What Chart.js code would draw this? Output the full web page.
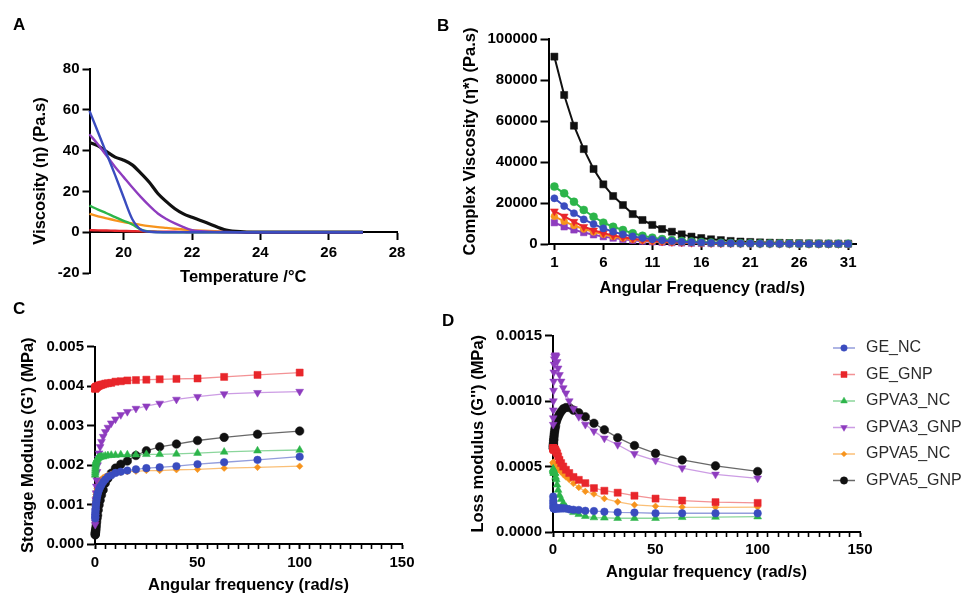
<!DOCTYPE html>
<html>
<head>
<meta charset="utf-8">
<script src="https://cdn.jsdelivr.net/npm/chart.js@4.4.1/dist/chart.umd.min.js"></script>
<style>
  html, body { margin: 0; padding: 0; background: #fff; width: 964px; height: 594px; overflow: hidden; }
  canvas { position: absolute; left: 0; top: 0; }
  .tag { position: absolute; font: bold 17px "Liberation Sans", Arial, sans-serif; line-height: 1; color: #000; }
</style>
</head>
<body>
<canvas id="chartA" width="964" height="610"></canvas>
<canvas id="chartB" width="964" height="610"></canvas>
<canvas id="chartC" width="964" height="610"></canvas>
<canvas id="chartD" width="964" height="610"></canvas>
<div class="tag" style="left:13px;top:16px">A</div>
<div class="tag" style="left:437px;top:17px">B</div>
<div class="tag" style="left:13px;top:300px">C</div>
<div class="tag" style="left:442px;top:312px">D</div>
<script>
// ---- data ----
var seriesNames = ['GE_NC', 'GE_GNP', 'GPVA3_NC', 'GPVA3_GNP', 'GPVA5_NC', 'GPVA5_GNP'];

// A: viscosity vs temperature
var tempA = [19, 19.25, 19.5, 19.75, 20, 20.25, 20.5, 20.75, 21, 21.25, 21.5, 21.75, 22, 22.5, 23, 23.5, 24, 25, 26, 27];
var aGE_NC     = [59.5, 49, 38.5, 28, 17, 6.5, 1.3, 0.2, 0, 0, 0, 0, 0, 0, 0, 0, 0, 0, 0, 0];
var aGE_GNP    = [1, 0.9, 0.8, 0.7, 0.6, 0.5, 0.4, 0.35, 0.3, 0.25, 0.2, 0.15, 0.1, 0.05, 0, 0, 0, 0, 0, 0];
var aGPVA3_NC  = [13, 11.1, 9.3, 7.4, 5.6, 3.8, 1.3, 0.3, 0.1, 0, 0, 0, 0, 0, 0, 0, 0, 0, 0, 0];
var aGPVA3_GNP = [48, 43, 37.5, 32, 27, 22, 17.3, 13, 9.2, 6.5, 4.3, 2.5, 1, 0.3, 0.1, 0, 0, 0, 0, 0];
var aGPVA5_NC  = [9, 7.8, 6.8, 5.8, 5, 4.3, 3.6, 3, 2.5, 2.1, 1.7, 1.3, 1, 0.6, 0.3, 0.1, 0, 0, 0, 0];
var aGPVA5_GNP = [44, 42.3, 39.5, 36.8, 35.3, 33, 29, 24.5, 19, 15, 11.5, 9, 7.3, 4.2, 1.1, 0.2, 0, 0, 0, 0];
var aXTicks = [20, 22, 24, 26, 28];
var aYTicks = [-20, 0, 20, 40, 60, 80];

// B: complex viscosity vs angular frequency
var freqB = [1, 2, 3, 4, 5, 6, 7, 8, 9, 10, 11, 12, 13, 14, 15, 16, 17, 18, 19, 20, 21, 22, 23, 24, 25, 26, 27, 28, 29, 30, 31];
var bGE_NC     = [22300, 18500, 15000, 12000, 9700, 7600, 6000, 4700, 3700, 2900, 2300, 1800, 1400, 1100, 900, 720, 580, 470, 390, 320, 270, 230, 200, 170, 150, 130, 115, 100, 90, 80, 75];
var bGE_GNP    = [16000, 13500, 10900, 8400, 6700, 5300, 4200, 3300, 2600, 2000, 1600, 1250, 1000, 800, 650, 520, 420, 350, 290, 240, 200, 170, 150, 130, 110, 100, 90, 80, 70, 65, 60];
var bGPVA3_NC  = [28000, 24700, 20600, 16600, 13300, 10400, 8400, 6800, 5200, 4000, 3100, 2400, 1900, 1500, 1200, 950, 760, 620, 500, 420, 350, 300, 260, 220, 190, 170, 150, 130, 120, 110, 100];
var bGPVA3_GNP = [10400, 8400, 6900, 5600, 4500, 3600, 2900, 2300, 1800, 1400, 1100, 870, 690, 550, 440, 360, 290, 240, 200, 170, 140, 120, 100, 90, 80, 70, 60, 55, 50, 45, 40];
var bGPVA5_NC  = [13500, 11000, 9000, 7300, 5900, 4700, 3700, 2900, 2300, 1800, 1400, 1100, 870, 700, 560, 450, 370, 300, 250, 210, 180, 150, 130, 110, 100, 90, 80, 70, 65, 60, 55];
var bGPVA5_GNP = [91400, 72700, 57700, 46300, 36600, 29100, 23400, 19000, 14600, 11700, 9300, 7300, 6000, 4700, 3600, 2900, 2300, 1900, 1500, 1200, 1000, 800, 650, 550, 450, 380, 320, 280, 240, 200, 180];
var bXTicks = [1, 6, 11, 16, 21, 26, 31];
var bYTicks = [0, 20000, 40000, 60000, 80000, 100000];

// C and D: moduli vs angular frequency
var freqCD = [0.1, 0.126, 0.158, 0.2, 0.251, 0.316, 0.398, 0.501, 0.631, 0.794, 1, 1.26, 1.58, 2, 2.51, 3.16, 3.98, 5.01, 6.31, 7.94, 10, 12.6, 15.8, 20, 25.1, 31.6, 39.8, 50.1, 63.1, 79.4, 100];
var cGE_NC     = [0.00065, 0.0007, 0.00075, 0.0008, 0.00085, 0.0009, 0.00096, 0.00102, 0.00108, 0.00114, 0.0012, 0.00126, 0.00132, 0.00138, 0.00144, 0.0015, 0.00157, 0.00163, 0.0017, 0.00174, 0.0018, 0.00183, 0.00186, 0.00189, 0.00192, 0.00194, 0.00197, 0.00202, 0.00207, 0.00213, 0.00221];
var cGE_GNP    = [0.00393, 0.00394, 0.00394, 0.00395, 0.00395, 0.00396, 0.00396, 0.00397, 0.00397, 0.00398, 0.00398, 0.00399, 0.004, 0.00401, 0.00402, 0.00403, 0.00404, 0.00406, 0.00407, 0.00408, 0.00411, 0.00412, 0.00414, 0.00415, 0.00416, 0.00417, 0.00418, 0.00419, 0.00423, 0.00428, 0.00434];
var cGPVA3_NC  = [0.00175, 0.0018, 0.00185, 0.0019, 0.00195, 0.002, 0.00204, 0.00207, 0.0021, 0.00212, 0.00214, 0.00216, 0.00218, 0.00219, 0.0022, 0.00221, 0.00221, 0.00223, 0.00224, 0.00225, 0.00225, 0.00226, 0.00226, 0.00226, 0.00227, 0.00227, 0.00228, 0.0023, 0.00233, 0.00236, 0.00238];
var cGPVA3_GNP = [0.00049, 0.00055, 0.00062, 0.0007, 0.00083, 0.00096, 0.00112, 0.00129, 0.00146, 0.00162, 0.00183, 0.002, 0.00217, 0.0023, 0.00246, 0.00259, 0.00272, 0.00284, 0.00295, 0.00306, 0.00316, 0.00327, 0.00335, 0.00343, 0.00349, 0.00356, 0.00366, 0.00373, 0.0038, 0.00383, 0.00386];
var cGPVA5_NC  = [0.0009, 0.00095, 0.001, 0.00105, 0.0011, 0.00115, 0.0012, 0.00125, 0.0013, 0.00135, 0.0014, 0.00145, 0.0015, 0.00155, 0.0016, 0.00164, 0.00168, 0.00171, 0.00174, 0.00177, 0.0018, 0.00181, 0.00183, 0.00184, 0.00186, 0.00186, 0.00188, 0.00189, 0.00192, 0.00194, 0.00197];
var cGPVA5_GNP = [0.00023, 0.00025, 0.00027, 0.00029, 0.00031, 0.00034, 0.00037, 0.00042, 0.00048, 0.00056, 0.00065, 0.00073, 0.00086, 0.00099, 0.00111, 0.00124, 0.00137, 0.00154, 0.00166, 0.00179, 0.00192, 0.00202, 0.0021, 0.00224, 0.00236, 0.00246, 0.00253, 0.00262, 0.0027, 0.00278, 0.00286];

var dGE_NC     = [0.00027, 0.00024, 0.00022, 0.0002, 0.00019, 0.00018, 0.00018, 0.00018, 0.00018, 0.00018, 0.00018, 0.00018, 0.00018, 0.00018, 0.00018, 0.00018, 0.00018, 0.00018, 0.000179, 0.000173, 0.00017, 0.000168, 0.000162, 0.00016, 0.000155, 0.00015, 0.000148, 0.000143, 0.000143, 0.000143, 0.000143];
var dGE_GNP    = [0.00064, 0.00064, 0.00064, 0.00064, 0.00063, 0.00063, 0.00063, 0.00063, 0.00063, 0.00063, 0.00063, 0.00062, 0.00061, 0.0006, 0.000577, 0.00055, 0.000526, 0.0005, 0.000475, 0.00045, 0.00042, 0.000398, 0.000373, 0.000335, 0.000315, 0.0003, 0.000277, 0.000255, 0.00024, 0.000228, 0.000222];
var dGPVA3_NC  = [0.00048, 0.00048, 0.00047, 0.00047, 0.00046, 0.00046, 0.00045, 0.00045, 0.00045, 0.00045, 0.00045, 0.00042, 0.0004, 0.00036, 0.00032, 0.00028, 0.00025, 0.00022, 0.00019, 0.00017, 0.00015, 0.000135, 0.00012, 0.00011, 0.000108, 0.000105, 0.000105, 0.000105, 0.000112, 0.000114, 0.000117];
var dGPVA3_GNP = [0.00082, 0.00087, 0.00093, 0.001, 0.00108, 0.00115, 0.00122, 0.00128, 0.00132, 0.00134, 0.00135, 0.00135, 0.00134, 0.0013, 0.00125, 0.0012, 0.00115, 0.0011, 0.00106, 0.001, 0.00094, 0.00088, 0.00082, 0.00077, 0.000715, 0.000666, 0.000597, 0.000545, 0.000488, 0.00044, 0.00041];
var dGPVA5_NC  = [0.00053, 0.00053, 0.00053, 0.00053, 0.00053, 0.00052, 0.00052, 0.00052, 0.00052, 0.00051, 0.00051, 0.0005, 0.0005, 0.00049, 0.00048, 0.00047, 0.00046, 0.00044, 0.00042, 0.0004, 0.00037, 0.00034, 0.00031, 0.00029, 0.000255, 0.00023, 0.000207, 0.000197, 0.00019, 0.000188, 0.00019];
var dGPVA5_GNP = [0.00064, 0.00065, 0.00066, 0.00067, 0.00068, 0.0007, 0.00071, 0.00073, 0.00075, 0.00077, 0.00079, 0.00081, 0.00084, 0.00086, 0.00088, 0.0009, 0.00092, 0.00094, 0.00095, 0.00095, 0.00093, 0.00091, 0.00088, 0.00083, 0.00078, 0.00072, 0.00066, 0.0006, 0.00055, 0.000505, 0.000462];

var cdXMajor = [0, 50, 100, 150];
var cYTicks = [0, 0.001, 0.002, 0.003, 0.004, 0.005];
var dYTicks = [0, 0.0005, 0.001, 0.0015];

// ---- look ----
var colors = {
  GE_NC: '#3a4cbf', GE_GNP: '#e8262b', GPVA3_NC: '#2cb54a',
  GPVA3_GNP: '#8e3cbf', GPVA5_NC: '#f7941d', GPVA5_GNP: '#111111'
};
var lightLines = {
  GE_NC: 'rgba(58,76,191,0.55)', GE_GNP: 'rgba(232,38,43,0.5)', GPVA3_NC: 'rgba(44,181,74,0.55)',
  GPVA3_GNP: 'rgba(170,90,210,0.6)', GPVA5_NC: 'rgba(247,148,29,0.6)', GPVA5_GNP: 'rgba(40,40,40,0.7)'
};
var markers = {
  GE_NC: ['circle', 0, 3.8], GE_GNP: ['rect', 0, 5], GPVA3_NC: ['triangle', 0, 4.5],
  GPVA3_GNP: ['triangle', 180, 4.5], GPVA5_NC: ['rectRot', 0, 3.3], GPVA5_GNP: ['circle', 0, 4.3]
};

Chart.defaults.font.family = '"Liberation Sans", Arial, sans-serif';
Chart.defaults.color = '#000';

var tickFont = { size: 15, weight: 'bold' };
var titleFont = { size: 16.5, weight: 'bold' };

function axis(opts) {
  // common look of every axis in the figure
  var a = {
    type: 'linear',
    min: opts.min,
    max: opts.max,
    position: opts.position,
    border: { display: true, color: '#000', width: 2 },
    grid: { display: true, drawOnChartArea: false, drawTicks: true, tickLength: opts.tickLength, tickColor: '#000', tickWidth: opts.tickWidth || 2 },
    ticks: { font: tickFont, color: '#000', padding: opts.pad, autoSkip: false, maxRotation: 0, callback: opts.fmt },
    title: { display: true, text: opts.title, font: titleFont, color: '#000', padding: 0 },
    afterBuildTicks: function (s) { s.ticks = opts.ticks.map(function (v) { return { value: v }; }); },
    afterFit: function (s) { if (opts.width) s.width = opts.width; if (opts.height) s.height = opts.height; }
  };
  return a;
}

function baseOptions(padding, scales, extra) {
  var o = {
    responsive: false,
    animation: false,
    devicePixelRatio: 1,
    events: [],
    layout: { padding: padding },
    plugins: { legend: { display: false }, title: { display: false }, tooltip: { enabled: false } },
    scales: scales
  };
  if (extra) Object.assign(o.plugins, extra);
  return o;
}

// ---- A ----
var aSeries = [aGE_NC, aGPVA3_GNP, aGPVA5_GNP, aGPVA3_NC, aGPVA5_NC, aGE_GNP];
var aNames = ['GE_NC', 'GPVA3_GNP', 'GPVA5_GNP', 'GPVA3_NC', 'GPVA5_NC', 'GE_GNP'];
new Chart(document.getElementById('chartA'), {
  type: 'line',
  data: {
    datasets: aSeries.map(function (vals, i) {
      var n = aNames[i];
      return {
        label: n,
        data: tempA.map(function (t, k) { return { x: t, y: vals[k] }; }),
        borderColor: colors[n],
        borderWidth: n === 'GPVA5_GNP' ? 3.2 : 2.4,
        pointRadius: 0,
        cubicInterpolationMode: 'monotone',
        clip: false
      };
    })
  },
  options: baseOptions({ left: 30.1, top: 69, right: 567, bottom: 337 }, {
    x: axis({ min: 19, max: 28, position: { y: 0 }, ticks: aXTicks, tickLength: 7, pad: 5, title: 'Temperature /°C', height: 54.9, fmt: function (v) { return String(v); } }),
    y: axis({ min: -20, max: 80, position: 'left', ticks: aYTicks, tickLength: 7, pad: 3, title: 'Viscosity (η) (Pa.s)', width: 59.4, fmt: function (v) { return String(v); } })
  })
});

// ---- B ----
var bSeries = [bGE_NC, bGPVA3_NC, bGE_GNP, bGPVA5_NC, bGPVA3_GNP, bGPVA5_GNP];
var bNames = ['GE_NC', 'GPVA3_NC', 'GE_GNP', 'GPVA5_NC', 'GPVA3_GNP', 'GPVA5_GNP'];
var bMarkers = {
  GE_NC: ['circle', 0, 3.6], GPVA3_NC: ['circle', 0, 4], GE_GNP: ['triangle', 180, 4.6],
  GPVA5_NC: ['circle', 0, 3.4], GPVA3_GNP: ['rect', 0, 4.6], GPVA5_GNP: ['rect', 0, 5]
};
new Chart(document.getElementById('chartB'), {
  type: 'line',
  data: {
    datasets: bSeries.map(function (vals, i) {
      var n = bNames[i];
      return {
        label: n,
        data: freqB.map(function (f, k) { return { x: f, y: vals[k] }; }),
        borderColor: colors[n],
        backgroundColor: colors[n],
        borderWidth: 2,
        pointStyle: bMarkers[n][0],
        pointRotation: bMarkers[n][1],
        pointRadius: bMarkers[n][2],
        pointBorderWidth: 0.5,
        tension: 0,
        clip: false
      };
    })
  },
  options: baseOptions({ left: 460.1, top: 39, right: 108, bottom: 312.1 }, {
    x: axis({ min: 0.4, max: 31.8, position: 'bottom', ticks: bXTicks, tickLength: 6, pad: 4, title: 'Angular Frequency (rad/s)', height: 53.9, fmt: function (v) { return String(v); } }),
    y: axis({ min: 0, max: 100000, position: 'left', ticks: bYTicks, tickLength: 8, pad: 3, title: 'Complex Viscosity (η*) (Pa.s)', width: 88.4, fmt: function (v) { return String(v); } })
  })
});

// ---- C and D ----
function cdDatasets(list) {
  return list.map(function (vals, i) {
    var n = seriesNames[i];
    return {
      label: n,
      data: freqCD.map(function (f, k) { return { x: f, y: vals[k] }; }),
      borderColor: lightLines[n],
      borderWidth: 1.3,
      pointBackgroundColor: colors[n],
      pointBorderColor: colors[n],
      pointBorderWidth: 0.5,
      pointStyle: markers[n][0],
      pointRotation: markers[n][1],
      pointRadius: markers[n][2],
      tension: 0,
      clip: false
    };
  });
}

var minorX = [];
for (var m = 0; m <= 150; m += 5) minorX.push(m);
function majorLabel(v) { return cdXMajor.indexOf(v) >= 0 ? String(v) : ''; }
function majorWidth(c) { return c.tick && cdXMajor.indexOf(c.tick.value) >= 0 ? 2 : 1.6; }

var cx = axis({ min: 0, max: 150, position: 'bottom', ticks: minorX, tickLength: 5, pad: 5, title: 'Angular frequency (rad/s)', height: 50.9, fmt: majorLabel });
cx.grid.tickWidth = majorWidth;
new Chart(document.getElementById('chartC'), {
  type: 'line',
  data: { datasets: cdDatasets([cGE_NC, cGE_GNP, cGPVA3_NC, cGPVA3_GNP, cGPVA5_NC, cGPVA5_GNP]) },
  options: baseOptions({ left: 18.1, top: 346.5, right: 562, bottom: 15.1 }, {
    x: cx,
    y: axis({ min: 0, max: 0.005, position: 'left', ticks: cYTicks, tickLength: 8, pad: 3, title: "Storage Modulus (G') (MPa)", width: 76.9, fmt: function (v) { return v.toFixed(3); } })
  })
});

// legend drawn at the right of panel D
var sideLegend = {
  id: 'sideLegend',
  afterDraw: function (chart, args, o) {
    var ctx = chart.ctx;
    chart.data.datasets.forEach(function (ds, i) {
      var y = o.top + i * o.gap;
      ctx.save();
      ctx.strokeStyle = ds.borderColor;
      ctx.lineWidth = 1.5;
      ctx.beginPath();
      ctx.moveTo(o.x, y);
      ctx.lineTo(o.x + o.len, y);
      ctx.stroke();
      ctx.fillStyle = ds.pointBackgroundColor;
      ctx.strokeStyle = ds.pointBorderColor;
      ctx.lineWidth = 0.5;
      Chart.helpers.drawPoint(ctx, { pointStyle: ds.pointStyle, rotation: ds.pointRotation, radius: ds.pointRadius * 0.85, borderWidth: 0.5 }, o.x + o.len / 2, y);
      ctx.fillStyle = '#2b2b2b';
      ctx.font = '16px "Liberation Sans", Arial, sans-serif';
      ctx.textBaseline = 'middle';
      ctx.textAlign = 'left';
      ctx.fillText(ds.label, o.textX, y);
      ctx.restore();
    });
  }
};

var dx = axis({ min: 0, max: 150, position: 'bottom', ticks: minorX, tickLength: 5, pad: 4, title: 'Angular frequency (rad/s)', height: 49.9, fmt: majorLabel });
dx.grid.tickWidth = majorWidth;
new Chart(document.getElementById('chartD'), {
  type: 'line',
  data: { datasets: cdDatasets([dGE_NC, dGE_GNP, dGPVA3_NC, dGPVA3_GNP, dGPVA5_NC, dGPVA5_GNP]) },
  options: baseOptions({ left: 468.1, top: 335.5, right: 104, bottom: 28.1 }, {
    x: dx,
    y: axis({ min: 0, max: 0.0015, position: 'left', ticks: dYTicks, tickLength: 8, pad: 3, title: "Loss modulus (G'') (MPa)", width: 84.9, fmt: function (v) { return v.toFixed(4); } })
  }, { sideLegend: { x: 833, len: 22, textX: 866, top: 348, gap: 26.5 } }),
  plugins: [sideLegend]
});
</script>
</body>
</html>
